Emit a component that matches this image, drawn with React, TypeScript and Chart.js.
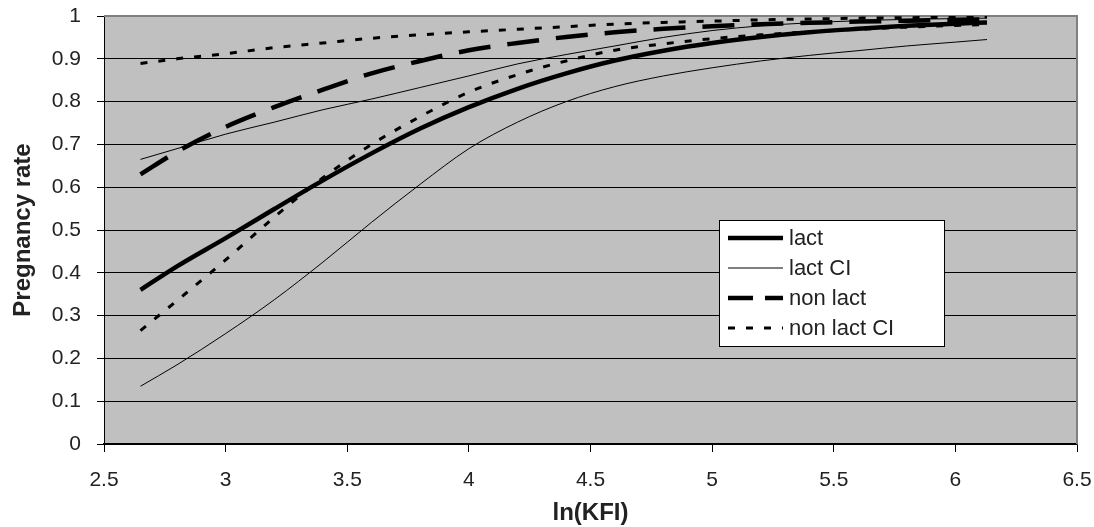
import React, { useEffect, useRef } from "react";
import { Chart, registerables } from "chart.js";

Chart.register(...registerables);

const X_VALUES = [2.65, 2.8, 3.0, 3.2, 3.4, 3.6, 3.8, 4.0, 4.2, 4.4, 4.6, 4.8, 5.0, 5.2, 5.4, 5.6, 5.8, 6.0, 6.13];

const LACT = [0.36, 0.415, 0.481, 0.549, 0.616, 0.679, 0.737, 0.787, 0.83, 0.866, 0.896, 0.919, 0.937, 0.951, 0.962, 0.97, 0.977, 0.982, 0.985];
const LACT_CI_UPPER = [0.665, 0.69, 0.724, 0.752, 0.781, 0.806, 0.833, 0.86, 0.888, 0.91, 0.93, 0.95, 0.966, 0.977, 0.984, 0.989, 0.992, 0.994, 0.995];
const LACT_CI_LOWER = [0.135, 0.185, 0.258, 0.337, 0.425, 0.518, 0.607, 0.69, 0.752, 0.8, 0.835, 0.86, 0.879, 0.895, 0.908, 0.919, 0.93, 0.939, 0.945];
const NON_LACT = [0.63, 0.683, 0.741, 0.787, 0.828, 0.866, 0.895, 0.92, 0.937, 0.951, 0.962, 0.97, 0.976, 0.981, 0.984, 0.987, 0.989, 0.991, 0.992];
const NON_LACT_CI_UPPER = [0.889, 0.9, 0.912, 0.926, 0.937, 0.948, 0.956, 0.963, 0.969, 0.975, 0.981, 0.985, 0.988, 0.991, 0.993, 0.995, 0.996, 0.997, 0.998];
const NON_LACT_CI_LOWER = [0.265, 0.335, 0.43, 0.53, 0.622, 0.7, 0.765, 0.822, 0.863, 0.895, 0.92, 0.935, 0.947, 0.956, 0.963, 0.969, 0.974, 0.978, 0.98];

const X_TICKS = [2.5, 3, 3.5, 4, 4.5, 5, 5.5, 6, 6.5];
const Y_TICKS = [0, 0.1, 0.2, 0.3, 0.4, 0.5, 0.6, 0.7, 0.8, 0.9, 1];

const LEGEND_LABELS = ["lact", "lact CI", "non lact", "non lact CI"];

const FONT = "'Liberation Sans', Arial, sans-serif";

const toPoints = (ys: number[]) => X_VALUES.map((x, i) => ({ x, y: ys[i] }));

const STYLES = {
  lact: { width: 4.5, dash: [] as number[] },
  ci: { width: 1, dash: [] as number[] },
  nonLact: { width: 4.5, dash: [32, 17] },
  nonLactCi: { width: 3, dash: [7, 11] },
};

const bgPlugin = {
  id: "plotBg",
  beforeDraw(chart: any) {
    const { ctx, chartArea: a } = chart;
    ctx.save();
    ctx.fillStyle = "#ffffff";
    ctx.fillRect(0, 0, chart.width, chart.height);
    ctx.fillStyle = "#c0c0c0";
    ctx.fillRect(a.left, a.top, a.right - a.left, a.bottom - a.top);
    ctx.restore();
  },
  beforeDatasetsDraw(chart: any) {
    const { ctx, chartArea: a } = chart;
    ctx.save();
    ctx.strokeStyle = "#808080";
    ctx.lineWidth = 2;
    ctx.beginPath();
    ctx.moveTo(a.left, a.top);
    ctx.lineTo(a.right, a.top);
    ctx.lineTo(a.right, a.bottom);
    ctx.stroke();
    ctx.restore();
  },
};

const legendPlugin = {
  id: "boxLegend",
  afterDraw(chart: any) {
    const { ctx } = chart;
    const box = { x: 719.5, y: 220.5, w: 225, h: 126 };
    ctx.save();
    ctx.fillStyle = "#ffffff";
    ctx.fillRect(box.x, box.y, box.w, box.h);
    ctx.strokeStyle = "#000000";
    ctx.lineWidth = 1;
    ctx.strokeRect(box.x, box.y, box.w, box.h);
    const styles = [STYLES.lact, STYLES.ci, STYLES.nonLact, STYLES.nonLactCi];
    const rowY = [238, 268, 298, 328];
    LEGEND_LABELS.forEach((label, i) => {
      const s = styles[i];
      ctx.beginPath();
      ctx.setLineDash(i === 2 ? [25, 12] : s.dash);
      ctx.lineWidth = s.width;
      ctx.strokeStyle = "#000";
      ctx.moveTo(728, rowY[i]);
      ctx.lineTo(783, rowY[i]);
      ctx.stroke();
      ctx.setLineDash([]);
      ctx.fillStyle = "#222";
      ctx.font = `22px ${FONT}`;
      ctx.textBaseline = "middle";
      ctx.textAlign = "left";
      ctx.fillText(label, 789, rowY[i] + 1);
    });
    ctx.restore();
  },
};

export default function App() {
  const ref = useRef<HTMLCanvasElement | null>(null);
  useEffect(() => {
    if (!ref.current) return;
    const mk = (label: string, ys: number[], s: { width: number; dash: number[] }) => ({
      label,
      data: toPoints(ys),
      borderColor: "#000",
      backgroundColor: "#000",
      borderWidth: s.width,
      borderDash: s.dash,
      pointRadius: 0,
      pointHoverRadius: 0,
      fill: false,
      cubicInterpolationMode: "monotone" as const,
      borderCapStyle: "butt" as const,
      borderJoinStyle: "round" as const,
    });
    const chart = new Chart(ref.current, {
      type: "line",
      data: {
        datasets: [
          mk("lact", LACT, STYLES.lact),
          mk("lact CI", LACT_CI_UPPER, STYLES.ci),
          mk("lact CI lower", LACT_CI_LOWER, STYLES.ci),
          mk("non lact", NON_LACT, STYLES.nonLact),
          mk("non lact CI", NON_LACT_CI_UPPER, STYLES.nonLactCi),
          mk("non lact CI lower", NON_LACT_CI_LOWER, STYLES.nonLactCi),
        ],
      },
      options: {
        responsive: false,
        animation: false,
        devicePixelRatio: 1,
        layout: { padding: { top: 16, right: 17, left: 0, bottom: 0 } },
        plugins: { legend: { display: false }, tooltip: { enabled: false } },
        events: [],
        scales: {
          x: {
            type: "linear",
            min: 2.5,
            max: 6.5,
            afterBuildTicks: (scale: any) => {
              scale.ticks = X_TICKS.map((v) => ({ value: v }));
            },
            afterFit: (scale: any) => {
              scale.height = 83;
              scale.paddingLeft = 0;
              scale.paddingRight = 0;
            },
            ticks: {
              font: { family: FONT, size: 21 },
              color: "#222",
              padding: 16,
              maxRotation: 0,
              autoSkip: false,
              callback: (v: any) => String(v),
            },
            grid: {
              drawOnChartArea: false,
              drawTicks: true,
              tickLength: 8,
              tickColor: "#000",
            },
            border: { display: true, color: "#000", width: 1.5 },
            title: {
              display: true,
              text: "ln(KFI)",
              font: { family: FONT, size: 24, weight: "bold" },
              color: "#222",
              padding: { top: 0, bottom: -1 },
            },
          },
          y: {
            type: "linear",
            min: 0,
            max: 1,
            afterBuildTicks: (scale: any) => {
              scale.ticks = Y_TICKS.map((v) => ({ value: v }));
            },
            afterFit: (scale: any) => {
              scale.width = 104;
              scale.paddingTop = 0;
              scale.paddingBottom = 0;
            },
            ticks: {
              font: { family: FONT, size: 21 },
              color: "#222",
              padding: 16,
              autoSkip: false,
              callback: (v: any) => String(v),
            },
            grid: {
              color: (c: any) => (c.tick && c.tick.value === 1 ? "#808080" : "#000"),
              lineWidth: 1,
              drawTicks: true,
              tickLength: 7,
              tickColor: "#000",
            },
            border: { display: true, color: "#000", width: 1 },
            title: {
              display: true,
              text: "Pregnancy rate",
              font: { family: FONT, size: 24, weight: "bold" },
              color: "#222",
              padding: { top: 9, bottom: 0 },
            },
          },
        },
      },
      plugins: [bgPlugin, legendPlugin],
    } as any);
    return () => chart.destroy();
  }, []);
  return (
    <div style={{ position: "absolute", left: 0, top: 0, width: 1094, height: 527 }}>
      <canvas ref={ref} width={1094} height={527} style={{ display: "block" }} />
    </div>
  );
}
